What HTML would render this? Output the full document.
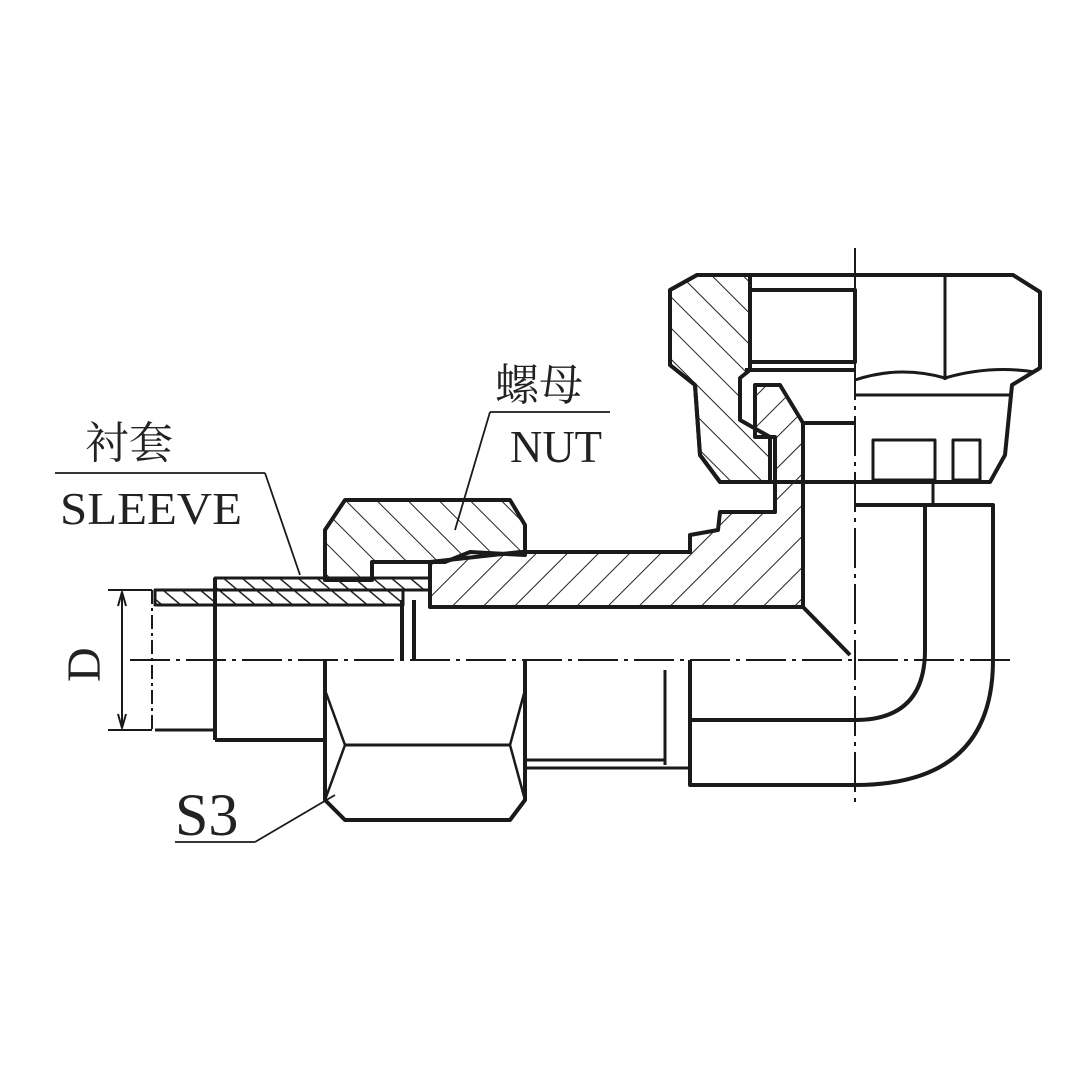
<!DOCTYPE html>
<html><head><meta charset="utf-8"><style>
html,body{margin:0;padding:0;background:#fff;}
svg{display:block}
text{font-family:"Liberation Serif","Noto Serif CJK SC",serif;fill:#222}
</style></head><body>
<svg width="1080" height="1080" viewBox="0 0 1080 1080" xmlns="http://www.w3.org/2000/svg">
<defs>
<pattern id="h" width="22" height="22" patternUnits="userSpaceOnUse" patternTransform="rotate(45)">
<line x1="0" y1="0" x2="0" y2="22" stroke="#222" stroke-width="2"/></pattern>
<pattern id="h2" width="22" height="22" patternUnits="userSpaceOnUse" patternTransform="rotate(-45)">
<line x1="0" y1="0" x2="0" y2="22" stroke="#222" stroke-width="2"/></pattern>
<pattern id="hs" width="12" height="12" patternUnits="userSpaceOnUse" patternTransform="rotate(-50)">
<line x1="0" y1="0" x2="0" y2="12" stroke="#222" stroke-width="3"/></pattern>
</defs>
<g fill="none" stroke="#1a1a1a" stroke-width="4" stroke-linejoin="round">
<!-- centerlines -->
<line x1="130" y1="660" x2="1010" y2="660" stroke-width="2" stroke-dasharray="40 6 4 6"/>
<line x1="855" y1="248" x2="855" y2="805" stroke-width="2" stroke-dasharray="40 6 4 6"/>

<!-- top nut -->
<path d="M697,275 L1013,275 L1040,292 L1040,368 L1012,385 L1005,455 L990,482 L720,482 L700,455 L695,385 L670,365 L670,290 Z"/>
<path d="M670,290 L697,275 L750,275 L750,370 L740,378 L740,420 L770,437 L770,482 L720,482 L700,455 L695,385 L670,365 Z" fill="url(#h2)"/>
<rect x="750" y="290" width="105" height="72"/>
<line x1="945" y1="277" x2="945" y2="380" stroke-width="3"/>
<path d="M855,380 Q900,365 945,378 Q990,365 1035,372" stroke-width="3"/>
<line x1="855" y1="395" x2="1010" y2="395" stroke-width="3"/>
<rect x="873" y="440" width="62" height="40" stroke-width="3"/>
<rect x="953" y="440" width="27" height="40" stroke-width="3"/>
<line x1="855" y1="482" x2="990" y2="482"/>
<line x1="933" y1="482" x2="933" y2="505" stroke-width="3"/>

<!-- body -->
<path d="M803,423 L803,607 L430,607 L430,562 L520,552 L690,552 L690,535 L718,530 L720,512 L775,512 L775,437 L755,437 L755,385 L780,385 L803,423 Z" fill="url(#h)"/>
<line x1="745" y1="370" x2="855" y2="370"/>
<line x1="803" y1="423" x2="855" y2="423"/>
<line x1="803" y1="607" x2="850" y2="655"/>
<line x1="430" y1="607" x2="803" y2="607"/>

<!-- elbow -->
<path d="M855,505 L993,505 L993,660 Q993,785 855,785 L690,785 L690,660"/>
<path d="M925,505 L925,650 Q925,720 855,720 L690,720"/>
<line x1="665" y1="670" x2="665" y2="765" stroke-width="3"/>
<line x1="525" y1="760" x2="665" y2="760" stroke-width="3"/>
<line x1="525" y1="768" x2="690" y2="768" stroke-width="3"/>

<!-- left nut -->
<path d="M325,530 L345,500 L510,500 L525,525 L525,555 L470,552 L445,562 L372,562 L372,580 L325,580 Z" fill="url(#h2)"/>
<path d="M325,660 L325,800 L345,820 L510,820 L525,800 L525,660"/>
<line x1="345" y1="745" x2="510" y2="745" stroke-width="3"/>
<path d="M325,690 L345,745 M525,690 L510,745 M325,800 L345,745 M525,800 L510,745" stroke-width="2.5"/>

<!-- sleeve & tube -->
<rect x="215" y="578" width="215" height="12" fill="url(#hs)" stroke-width="3"/>
<rect x="155" y="590" width="248" height="15" fill="url(#hs)" stroke-width="3"/>
<line x1="215" y1="578" x2="215" y2="740"/>
<line x1="215" y1="740" x2="325" y2="740"/>
<line x1="402" y1="600" x2="402" y2="660"/>
<line x1="414" y1="600" x2="414" y2="660"/>
<line x1="155" y1="730" x2="215" y2="730" stroke-width="3"/>
<line x1="152" y1="590" x2="152" y2="730" stroke-width="2" stroke-dasharray="14 4 3 4"/>

<!-- D dim -->
<line x1="108" y1="590" x2="152" y2="590" stroke-width="2"/>
<line x1="108" y1="730" x2="152" y2="730" stroke-width="2"/>
<line x1="122" y1="592" x2="122" y2="728" stroke-width="2"/>
<path d="M118,606 L122,592 L126,606 M118,714 L122,728 L126,714" stroke-width="2"/>

<!-- leaders -->
<g stroke-width="1.8">
<line x1="55" y1="473" x2="265" y2="473"/><line x1="265" y1="473" x2="300" y2="575"/>
<line x1="490" y1="412" x2="610" y2="412"/><line x1="490" y1="412" x2="455" y2="530"/>
<line x1="175" y1="842" x2="255" y2="842"/><line x1="255" y1="842" x2="335" y2="795"/>
</g>
</g>
<text x="85" y="458" font-size="44">衬套</text>
<text x="60" y="524" font-size="46" textLength="182" lengthAdjust="spacingAndGlyphs">SLEEVE</text>
<text x="495" y="400" font-size="44">螺母</text>
<text x="510" y="462" font-size="46" textLength="92" lengthAdjust="spacingAndGlyphs">NUT</text>
<text x="175" y="835" font-size="60">S3</text>
<text x="0" y="0" font-size="48" transform="translate(100,682) rotate(-90)">D</text>
</svg>
</body></html>
